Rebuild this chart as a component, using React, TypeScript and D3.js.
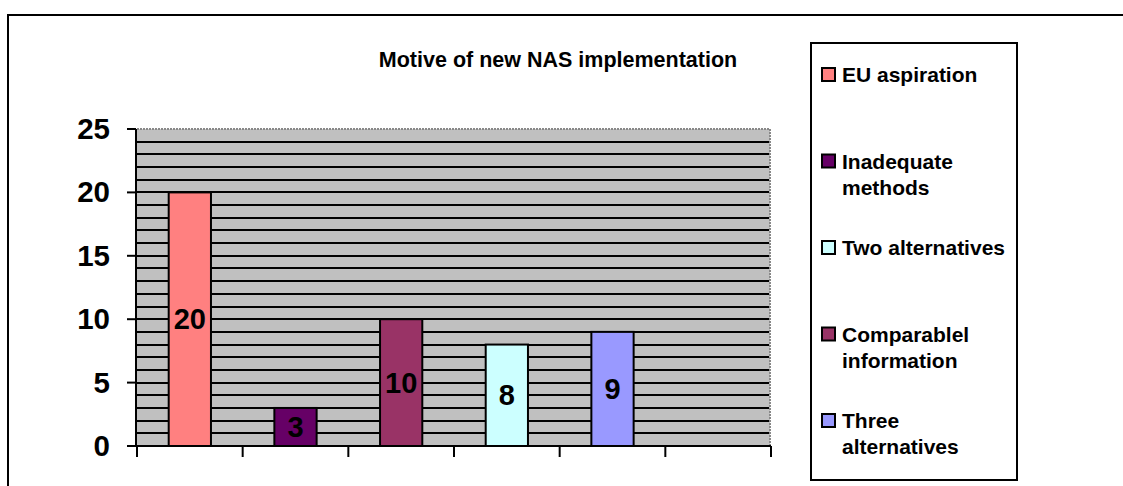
import React from "react";
import * as d3 from "d3";

const title = "Motive of new NAS implementation";
const slots = ["s1", "s2", "s3", "s4", "s5", "s6"];
const barValues = [20, 3, 10, 8, 9];
const barColors = ["#FF8080", "#660066", "#993366", "#CCFFFF", "#9999FF"];
const legendNames = [
  ["EU aspiration"],
  ["Inadequate", "methods"],
  ["Two alternatives"],
  ["Comparablel", "information"],
  ["Three", "alternatives"],
];
const legendColors = ["#FF8080", "#660066", "#CCFFFF", "#993366", "#9999FF"];
const yTicks = [0, 5, 10, 15, 20, 25];
const gridValues = d3.range(1, 25);

const FONT = "'Liberation Sans', Arial, Helvetica, sans-serif";

export default function App() {
  const W = 1123, H = 486;
  const left = 137, right = 771, top = 129, bottom = 446;
  const x = d3.scaleBand().domain(slots).range([left, right]).padding(0);
  const y = d3.scaleLinear().domain([0, 25]).range([bottom, top]);
  const bw = x.bandwidth() * 0.4;

  return (
    <svg width={W} height={H} style={{ position: "absolute", left: 0, top: 0 }} fontFamily={FONT}>
      <rect x={0} y={0} width={W} height={H} fill="#fff" />
      {/* outer frame */}
      <rect x={8} y={15} width={1400} height={800} fill="none" stroke="#000" strokeWidth={2} />
      {/* title */}
      <text x={558} y={67} textAnchor="middle" fontSize={21.5} fontWeight="bold">{title}</text>
      {/* plot area */}
      <rect x={left} y={top} width={right - left - 1} height={bottom - top} fill="#C0C0C0" />
      <line x1={left} x2={right - 1} y1={top} y2={top} stroke="#888" strokeWidth={2} strokeDasharray="2,1" />
      <line x1={right - 1} x2={right - 1} y1={top} y2={bottom} stroke="#888" strokeWidth={2} strokeDasharray="2,1" />
      {gridValues.map((v) => (
        <line key={v} x1={left} x2={right - 2} y1={Math.round(y(v))} y2={Math.round(y(v))} stroke="#000" strokeWidth={2} />
      ))}
      {/* bars */}
      {barValues.map((v, i) => {
        const cx = (x(slots[i]) as number) + x.bandwidth() / 2;
        return (
          <g key={i}>
            <rect x={cx - bw / 2} y={y(v)} width={bw} height={y(0) - y(v)} fill={barColors[i]} stroke="#000" strokeWidth={2} />
            <text x={cx} y={(y(v) + y(0)) / 2 + 10} textAnchor="middle" fontSize={29} fontWeight="bold">{v}</text>
          </g>
        );
      })}
      {/* y axis */}
      <line x1={left - 1} x2={left - 1} y1={top} y2={bottom} stroke="#000" strokeWidth={2} />
      {yTicks.map((t) => (
        <g key={t}>
          <line x1={127} x2={left - 1} y1={y(t)} y2={y(t)} stroke="#000" strokeWidth={2} />
          <text x={110} y={y(t) + 10} textAnchor="end" fontSize={29.5} fontWeight="bold">{t}</text>
        </g>
      ))}
      {/* x axis */}
      <line x1={left - 1} x2={right} y1={bottom} y2={bottom} stroke="#000" strokeWidth={2} />
      {[...slots.map((s) => x(s) as number), right].map((px, i) => (
        <line key={i} x1={px} x2={px} y1={bottom} y2={457} stroke="#000" strokeWidth={2} />
      ))}
      {/* legend */}
      <rect x={811} y={43} width={206} height={437} fill="#fff" stroke="#000" strokeWidth={2} />
      {legendNames.map((lines, i) => {
        const cy = 75 + i * 86.5;
        return (
          <g key={i}>
            <rect x={822} y={cy - 7} width={13} height={13} fill={legendColors[i]} stroke="#000" strokeWidth={2} />
            {lines.map((ln, j) => (
              <text key={j} x={842} y={cy + 7 + j * 26} fontSize={21} fontWeight="bold">{ln}</text>
            ))}
          </g>
        );
      })}
    </svg>
  );
}
